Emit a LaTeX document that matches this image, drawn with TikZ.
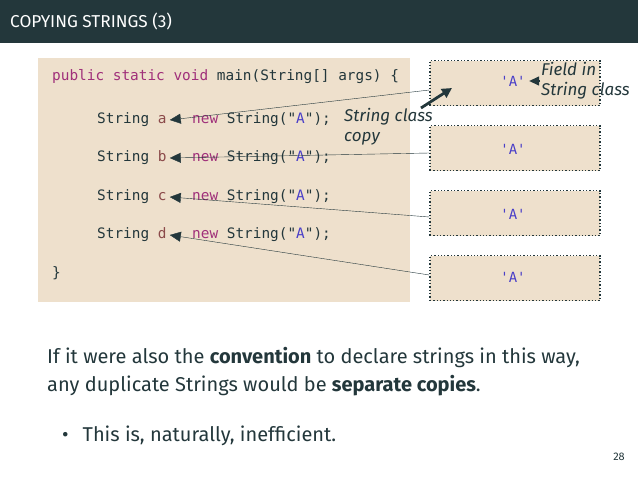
\documentclass[tikz,border=0pt]{standalone}
\usepackage{fontspec}
\setmainfont{Fira Sans}
\setmonofont{DejaVu Sans Mono}
\usetikzlibrary{arrows.meta,positioning}
\definecolor{slate}{HTML}{23373B}
\definecolor{codebg}{HTML}{EEE0CC}
\definecolor{kw}{HTML}{A0307A}
\definecolor{var}{HTML}{8B4A4A}
\definecolor{strc}{HTML}{4A3FC8}
\newcommand{\kwd}[1]{\textcolor{kw}{#1}}
\newcommand{\vr}[1]{\textcolor{var}{#1}}
\newcommand{\st}[1]{\textcolor{strc}{#1}}
\begin{document}
\begin{tikzpicture}[x=1pt,y=-1pt,
    codeline/.style={anchor=west,inner sep=0pt,font=\ttfamily\fontsize{14.4}{16}\selectfont,text=slate},
    objbox/.style={draw=slate,dotted,line width=1.3pt,fill=codebg,minimum width=170pt,minimum height=45pt,inner sep=0pt},
    fieldtxt/.style={font=\ttfamily\fontsize{14}{16}\selectfont,text=strc},
    note/.style={font=\itshape\fontsize{17}{20}\selectfont,text=slate,align=left,inner sep=0pt},
    bodytxt/.style={anchor=west,text=slate,font=\fontsize{20}{22}\selectfont,inner sep=0pt},
    ref/.style={-{Triangle[length=11pt,width=10pt]},slate,thin}]
\useasboundingbox (0,0) rectangle (638,479);
% title bar
\fill[slate] (0,0) rectangle (638,43);
\node[anchor=west,text=white,font=\fontsize{17.2}{19}\selectfont,inner sep=0pt] (title) at (10,21) {COPYING STRINGS (3)};

% code
\fill[codebg] (38,58) rectangle (410,302);
\node[codeline] (l0) at (52,77) {\kwd{public static void} main(String[] args) \{};
\node[codeline] (sa) at (97,120) {String \vr{a}};
\node[codeline] (na) at (192,120) {\kwd{new} String("\st{A}");};
\node[codeline] (sb) at (97,158) {String \vr{b}};
\node[codeline] (nb) at (192,158) {\kwd{new} String("\st{A}");};
\node[codeline] (sc) at (97,197) {String \vr{c}};
\node[codeline] (nc) at (192,197) {\kwd{new} String("\st{A}");};
\node[codeline] (sd) at (97,235) {String \vr{d}};
\node[codeline] (nd) at (192,235) {\kwd{new} String("\st{A}");};
\node[codeline] (l5) at (52,273) {\}};

% objects
\node[objbox] (oa) at (515,83) {};
\node[objbox] (ob) at (515,148) {};
\node[objbox] (oc) at (515,213) {};
\node[objbox] (od) at (515,278) {};
\node[fieldtxt] (fa) at (513,81) {'A'};
\node[fieldtxt] (fb) at (513,149) {'A'};
\node[fieldtxt] (fc) at (513,214) {'A'};
\node[fieldtxt] (fd) at (513,277) {'A'};

% references
\draw[ref] (oa.west |- 0,90) -- ([xshift=3pt]sa.east);
\draw[ref] (ob.west |- 0,153) -- ([xshift=3pt]sb.east);
\draw[ref] (oc.west |- 0,217) -- ([xshift=3pt]sc.east);
\draw[ref] (od.west |- 0,275) -- ([xshift=3pt]sd.east);

% notes
\node[note,anchor=north west] (copy) at (344,108) {String class\\copy};
\node[note,anchor=north west] (field) at (541,62) {Field in\\String class};
\coordinate (copytip) at (452,88);
\draw[-{Triangle[length=10pt,width=10pt]},slate,line width=2.8pt] (421,108) -- (copytip);
\draw[-{Triangle[length=10pt,width=9pt]},slate,line width=1.4pt] ([xshift=-1pt]field.west |- fa) -- (fa.east);

% body
\node[bodytxt] (p1) at (47,358) {If it were also the \textbf{convention} to declare strings in this way,};
\node[bodytxt] (p2) at (47,386) {any duplicate Strings would be \textbf{separate copies}.};
\node[bodytxt] (b1) at (62,436) {\textbullet\hspace{14pt}This is, naturally, inefficient.};
\node[text=slate,font=\fontsize{11}{13}\selectfont] (pg) at (619,457) {28};
\end{tikzpicture}
\end{document}
